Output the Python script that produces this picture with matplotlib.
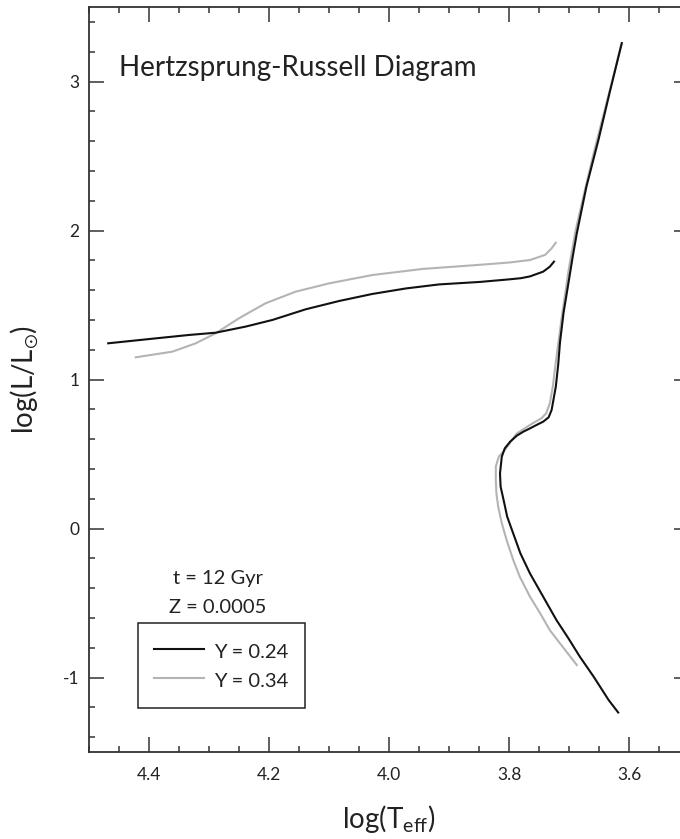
import matplotlib
matplotlib.use("Agg")
import matplotlib.pyplot as plt
from matplotlib.ticker import MultipleLocator, FormatStrFormatter

plt.rcParams['font.family'] = ['Lato', 'DejaVu Sans']
plt.rcParams['mathtext.fontset'] = 'custom'
plt.rcParams['mathtext.rm'] = 'Lato'
plt.rcParams['mathtext.it'] = 'Lato:italic'
plt.rcParams['axes.unicode_minus'] = False

# Y = 0.24 isochrone: main sequence -> turn-off -> subgiant -> red giant branch
y24_teff = [3.618, 3.634, 3.659, 3.682, 3.701, 3.721, 3.743, 3.765, 3.781, 3.793,
            3.803, 3.809, 3.814, 3.815, 3.812, 3.807, 3.798, 3.787, 3.776, 3.765,
            3.754, 3.743, 3.734, 3.729, 3.726, 3.722, 3.718, 3.715, 3.709, 3.701,
            3.694, 3.687, 3.671, 3.651, 3.632, 3.612]
y24_lum = [-1.235, -1.151, -0.994, -0.860, -0.737, -0.614, -0.458, -0.302, -0.167, -0.033,
           0.079, 0.191, 0.281, 0.370, 0.482, 0.538, 0.583, 0.623, 0.650, 0.672,
           0.695, 0.717, 0.746, 0.795, 0.862, 0.951, 1.100, 1.250, 1.450, 1.646,
           1.820, 1.981, 2.294, 2.607, 2.930, 3.258]
# Y = 0.24 horizontal branch
y24_hb_teff = [4.468, 4.389, 4.333, 4.289, 4.239, 4.194, 4.139, 4.083, 4.028, 3.972,
               3.917, 3.848, 3.800, 3.780, 3.765, 3.743, 3.732, 3.725]
y24_hb_lum = [1.243, 1.276, 1.299, 1.314, 1.355, 1.400, 1.471, 1.527, 1.574, 1.611,
              1.638, 1.655, 1.672, 1.680, 1.692, 1.724, 1.757, 1.791]

# Y = 0.34 isochrone
y34_teff = [3.687, 3.715, 3.732, 3.748, 3.765, 3.782, 3.793, 3.804, 3.812, 3.818,
            3.821, 3.822, 3.822, 3.817, 3.807, 3.787, 3.765, 3.746, 3.738, 3.732,
            3.727, 3.723, 3.712, 3.700, 3.689, 3.673, 3.657, 3.641, 3.627, 3.613]
y34_lum = [-0.916, -0.771, -0.682, -0.570, -0.458, -0.324, -0.211, -0.077, 0.035, 0.146,
           0.236, 0.326, 0.415, 0.482, 0.527, 0.638, 0.695, 0.740, 0.773, 0.840,
           0.951, 1.086, 1.421, 1.750, 2.000, 2.280, 2.550, 2.800, 3.020, 3.245]
y34_hb_teff = [4.422, 4.361, 4.322, 4.289, 4.250, 4.206, 4.156, 4.100, 4.028, 3.944,
               3.848, 3.800, 3.765, 3.740, 3.729, 3.722]
y34_hb_lum = [1.149, 1.187, 1.243, 1.310, 1.411, 1.511, 1.589, 1.645, 1.701, 1.742,
              1.770, 1.785, 1.802, 1.836, 1.880, 1.918]

labels = ['Y = 0.24', 'Y = 0.34']
colors = ['#111111', '#b4b4b4']

fig = plt.figure(figsize=(6.8, 8.39), dpi=100)
ax = fig.add_axes([89 / 680, 87 / 839, 600 / 680, 745 / 839])

ax.plot(y24_teff, y24_lum, color=colors[0], lw=1.5, label=labels[0], zorder=3,
        solid_joinstyle='round')
ax.plot(y24_hb_teff, y24_hb_lum, color=colors[0], lw=1.5, zorder=3,
        solid_joinstyle='round')
ax.plot(y34_teff, y34_lum, color=colors[1], lw=1.5, label=labels[1], zorder=2,
        solid_joinstyle='round')
ax.plot(y34_hb_teff, y34_hb_lum, color=colors[1], lw=1.5, zorder=2,
        solid_joinstyle='round')

ax.set_xlim(4.5, 3.5)
ax.set_ylim(-1.5, 3.5)

ax.xaxis.set_major_locator(MultipleLocator(0.2))
ax.xaxis.set_minor_locator(MultipleLocator(0.05))
ax.xaxis.set_major_formatter(FormatStrFormatter('%.1f'))
ax.yaxis.set_major_locator(MultipleLocator(1))
ax.yaxis.set_minor_locator(MultipleLocator(0.2))
ax.yaxis.set_major_formatter(FormatStrFormatter('%d'))

ax.tick_params(which='both', direction='in', top=True, right=True,
               color='#333333', width=1.1, labelsize=12.5, labelcolor='#222222')
ax.tick_params(which='major', length=10.5)
ax.tick_params(which='minor', length=4.3)
ax.tick_params(axis='x', pad=11)
ax.tick_params(axis='y', pad=7)
for s in ax.spines.values():
    s.set_color('#333333')
    s.set_linewidth(1.3)

ax.set_xlabel(r'$\mathregular{log(T_{eff})}$', fontsize=20, color='#222222')
ax.set_ylabel(r'$\mathregular{log(L/L_{\odot})}$', fontsize=20, color='#222222')
ax.xaxis.set_label_coords(0.5, -0.068)
ax.yaxis.set_label_coords(-0.08, 0.5)

ax.text(0.05, 0.908, 'Hertzsprung-Russell Diagram', transform=ax.transAxes,
        fontsize=20, va='baseline', ha='left', color='#222222')
ax.text(0.215, 0.2255, 't = 12 Gyr', transform=ax.transAxes,
        fontsize=14.5, va='baseline', ha='center', color='#222222')
ax.text(0.215, 0.1866, 'Z = 0.0005', transform=ax.transAxes,
        fontsize=14.5, va='baseline', ha='center', color='#222222')

leg = ax.legend(loc='upper left', bbox_to_anchor=(0.0812, 0.1728), borderaxespad=0,
                fontsize=14.5, handlelength=2.5, handletextpad=0.5, borderpad=0.8,
                handleheight=1.45, labelspacing=0.25, fancybox=False, framealpha=1)
leg.get_frame().set_edgecolor('#222222')
leg.get_frame().set_linewidth(1.1)
for t in leg.get_texts():
    t.set_color('#222222')

fig.savefig('out.png', dpi=100)
